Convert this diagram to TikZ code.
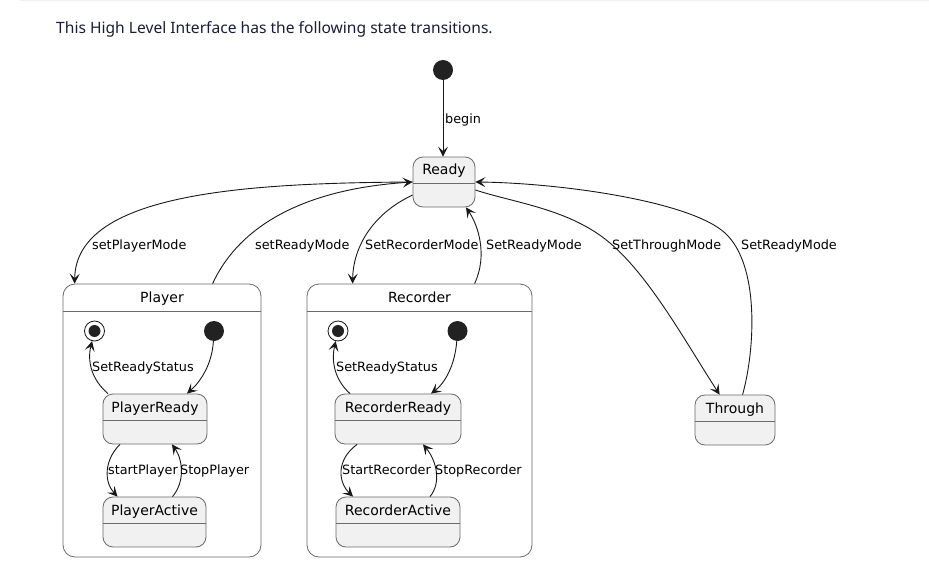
\documentclass[tikz,border=0pt]{standalone}
\usepackage{fontspec}
\setmainfont{DejaVu Sans}
\newfontfamily\titlefont{Noto Sans}
\usetikzlibrary{arrows.meta}
\definecolor{stfill}{HTML}{F1F1F1}
\definecolor{stline}{HTML}{6A6A6A}
\definecolor{edge}{HTML}{181818}
\definecolor{dot}{HTML}{222222}
\definecolor{navy}{HTML}{1B1B3A}
\tikzset{
  stbox/.style={draw=stline, line width=0.8pt, fill=stfill, rounded corners=10pt, inner sep=0pt},
  compbox/.style={draw=stline, line width=0.8pt, fill=white, rounded corners=12pt, inner sep=0pt},
  divline/.style={draw=stline, line width=0.8pt},
  stname/.style={inner sep=0pt, anchor=base, yshift=-5pt, font=\fontsize{14}{16}\selectfont, text=black},
  elabel/.style={inner sep=0pt, anchor=base west, yshift=-4.6pt, font=\fontsize{12.8}{15}\selectfont, text=black},
  initdot/.style={circle, fill=dot, minimum size=20pt, inner sep=0pt},
  endring/.style={circle, draw=edge, line width=0.8pt, fill=white, minimum size=20pt, inner sep=0pt},
  enddot/.style={circle, fill=dot, minimum size=12pt, inner sep=0pt},
  trans/.style={draw=edge, line width=0.9pt, -{Stealth[length=10pt, width=10pt, inset=4.5pt]}},
}
\begin{document}
\begin{tikzpicture}[x=1pt, y=-1pt]
\useasboundingbox (0,0) rectangle (929,583);
\fill[gray!12] (20,0) rectangle (929,1.5);
\node[inner sep=0pt, anchor=west, font=\titlefont\fontsize{15.6}{18}\selectfont, text=navy] (title) at (56,29.5) {This High Level Interface has the following state transitions.};

% top initial and Ready
\node[initdot] (init) at (443,70) {};
\node[stbox, minimum width=62pt, minimum height=50pt] (Ready) at (444,182) {};
\draw[divline] (Ready.west |- 0,183) -- (Ready.east |- 0,183);
\node[stname] (Ready-n) at (444,170) {Ready};

% Player composite
\node[compbox, minimum width=198pt, minimum height=273pt] (Player) at (162,420.5) {};
\draw[divline] (Player.west |- 0,311) -- (Player.east |- 0,311);
\node[stname] (Player-n) at (162,297) {Player};
\node[endring] (pend) at (94.5,331) {};
\node[enddot] (pend-d) at (94.5,331) {};
\node[initdot] (pinit) at (214,331) {};
\node[stbox, minimum width=104pt, minimum height=50pt] (PR) at (155,419) {};
\draw[divline] (PR.west |- 0,420) -- (PR.east |- 0,420);
\node[stname] (PR-n) at (155,407) {PlayerReady};
\node[stbox, minimum width=103pt, minimum height=50pt] (PA) at (154.5,522) {};
\draw[divline] (PA.west |- 0,523) -- (PA.east |- 0,523);
\node[stname] (PA-n) at (154.5,510) {PlayerActive};

% Recorder composite
\node[compbox, minimum width=225pt, minimum height=273pt] (Recorder) at (419.5,420.5) {};
\draw[divline] (Recorder.west |- 0,311) -- (Recorder.east |- 0,311);
\node[stname] (Recorder-n) at (419.5,297) {Recorder};
\node[endring] (rend) at (338,331) {};
\node[enddot] (rend-d) at (338,331) {};
\node[initdot] (rinit) at (457.5,331) {};
\node[stbox, minimum width=126pt, minimum height=50pt] (RR) at (398,419) {};
\draw[divline] (RR.west |- 0,420) -- (RR.east |- 0,420);
\node[stname] (RR-n) at (398,407) {RecorderReady};
\node[stbox, minimum width=124pt, minimum height=50pt] (RA) at (398,522) {};
\draw[divline] (RA.west |- 0,523) -- (RA.east |- 0,523);
\node[stname] (RA-n) at (398,510) {RecorderActive};

% Through
\node[stbox, minimum width=80pt, minimum height=50pt] (Through) at (735,420) {};
\draw[divline] (Through.west |- 0,421) -- (Through.east |- 0,421);
\node[stname] (Through-n) at (735,408) {Through};

% top-level transitions
\draw[trans] (init) -- (init |- Ready.north);
\node[elabel] (l-begin) at (445,119) {begin};

\draw[trans] (Ready.west) .. controls (250,183) and (76,192) .. ([xshift=12pt]Player.north west);
\node[elabel] (l-spm) at (92,245) {setPlayerMode};

\draw[trans] ([xshift=150pt]Player.north west) .. controls (235,235) and (290,190) .. (Ready.west);
\node[elabel] (l-srm1) at (255,245) {setReadyMode};

\draw[trans] ([yshift=-13pt]Ready.west) .. controls (370,215) and (353,250) .. ([xshift=46pt]Recorder.north west);
\node[elabel] (l-srec) at (365,245) {SetRecorderMode};

\draw[trans] ([xshift=168pt]Recorder.north west) .. controls (488,255) and (478,225) .. ([xshift=22pt]Ready.south);
\node[elabel] (l-srm2) at (486,245) {SetReadyMode};

\draw[trans] ([yshift=-8pt]Ready.east) .. controls (515,203) and (570,209) .. (610,243) .. controls (650,277) and (685,341) .. ([xshift=25pt]Through.north west);
\node[elabel] (l-sth) at (612,245) {SetThroughMode};

\draw[trans] ([xshift=48pt]Through.north west) .. controls (755,350) and (760,265) .. (725,233) .. controls (690,201) and (560,183) .. (Ready.east);
\node[elabel] (l-srm3) at (741,245) {SetReadyMode};

% Player inner transitions
\draw[trans] (pinit) .. controls (212,365) and (200,382) .. ([xshift=32pt]PR.north);
\draw[trans] ([xshift=-47pt]PR.north) .. controls (92,380) and (87,362) .. (pend);
\node[elabel] (l-psrs) at (92,367) {SetReadyStatus};
\draw[trans] ([xshift=-35pt]PR.south) .. controls (104,460) and (104,482) .. ([xshift=-37pt]PA.north);
\node[elabel] (l-sp) at (108,470) {startPlayer};
\draw[trans] ([xshift=18pt]PA.north) .. controls (185,482) and (183,460) .. ([xshift=17pt]PR.south);
\node[elabel] (l-stp) at (180,470) {StopPlayer};

% Recorder inner transitions
\draw[trans] (rinit) .. controls (455,365) and (445,383) .. ([xshift=33pt]RR.north);
\draw[trans] ([xshift=-48pt]RR.north) .. controls (335,380) and (331,362) .. (rend);
\node[elabel] (l-rsrs) at (336,367) {SetReadyStatus};
\draw[trans] ([xshift=-41pt]RR.south) .. controls (336,460) and (338,482) .. ([xshift=-45pt]RA.north);
\node[elabel] (l-sr) at (342,470) {StartRecorder};
\draw[trans] ([xshift=32pt]RA.north) .. controls (442,482) and (436,460) .. ([xshift=25pt]RR.south);
\node[elabel] (l-str) at (435,470) {StopRecorder};
\end{tikzpicture}
\end{document}
